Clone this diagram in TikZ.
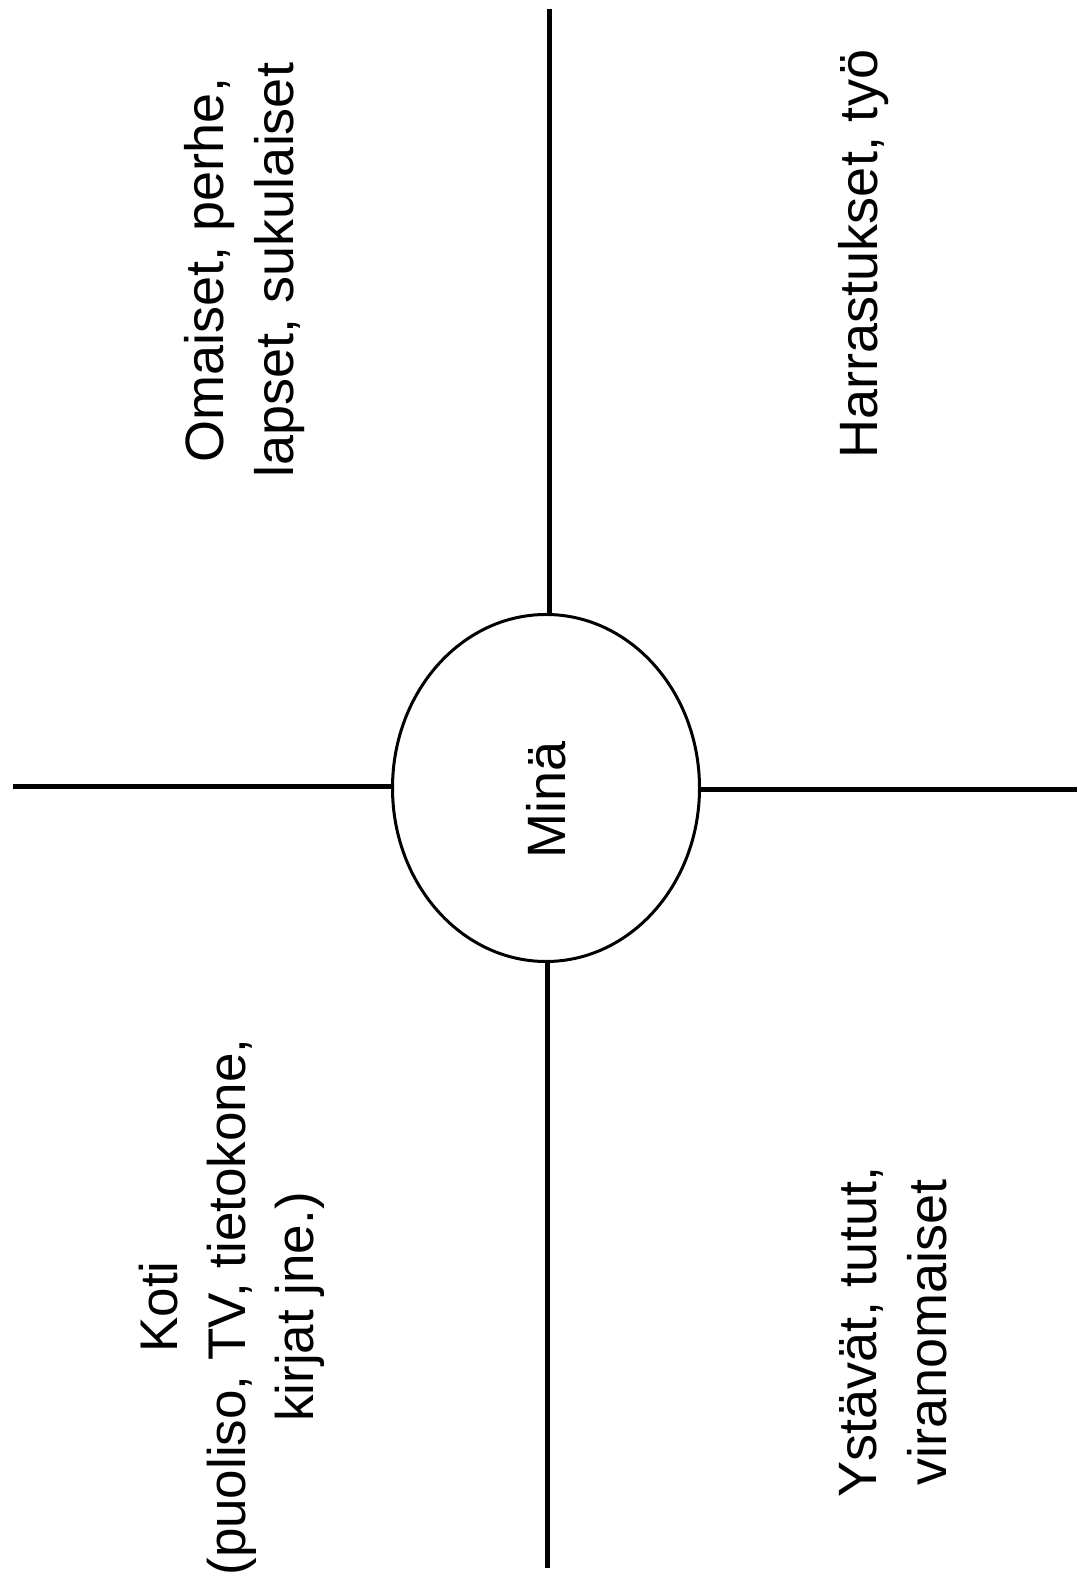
\documentclass[tikz,border=0pt]{standalone}
\usepackage{fontspec}
\setmainfont{Liberation Sans}
\usetikzlibrary{shapes.geometric}
\tikzset{
  hub/.style={draw, ellipse, line width=1.5pt, minimum width=153.5pt, minimum height=173.5pt, inner sep=0pt},
  spoke/.style={line width=2.5pt},
  area/.style={rotate=90, align=center, inner sep=0pt, font=\fontsize{27}{35}\selectfont}
}

\begin{document}
\begin{tikzpicture}[x=0.5pt, y=0.5pt]
\useasboundingbox (0,0) rectangle (1077,1590);
% keskus
\node[hub] (mina) at (546,802) {};
\node[area] (minatxt) at (546,790) {Minä};
\coordinate (ylos) at (549.5,1581);
\coordinate (alas) at (547.5,22);
\coordinate (vasen) at (13,803);
\coordinate (oikea) at (1077,800.5);
\draw[spoke] (ylos) -- (ylos |- mina.north);
\draw[spoke] (alas) -- (alas |- mina.south);
\draw[spoke] (vasen) -- (vasen -| mina.west);
\draw[spoke] (oikea) -- (oikea -| mina.east);
% lohkot
\node[area] (omaiset) at (245,1320) {Omaiset, perhe,\\lapset, sukulaiset};
\node[area] (harrastus) at (864,1336) {Harrastukset, työ};
\node[area, font=\fontsize{26.5}{34}\selectfont] (koti) at (232,283) {Koti\\(puoliso, TV, tietokone,\\kirjat jne.)};
\node[area] (ystavat) at (893,258) {Ystävät, tutut,\\viranomaiset};
\end{tikzpicture}
\end{document}
